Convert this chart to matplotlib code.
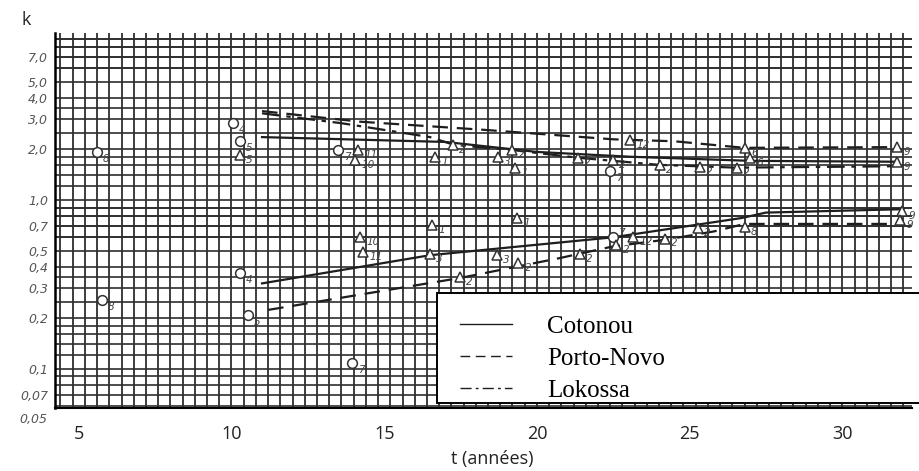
import numpy as np
import matplotlib.pyplot as plt
from matplotlib.patches import Rectangle
from matplotlib.ticker import FixedLocator, NullLocator, FixedFormatter
import matplotlib.transforms as mtransforms

# Courbes du haut (k en fonction de t)
t_cot_hi = [11.0, 17.0, 20.0, 23.0, 27.0, 31.8]
k_cot_hi = [2.35, 2.20, 1.92, 1.80, 1.70, 1.68]
t_pn_hi = [11.0, 14.2, 18.2, 22.5, 24.5, 26.8, 31.8]
k_pn_hi = [3.35, 2.90, 2.60, 2.28, 2.22, 2.03, 2.05]
t_lok_hi = [11.0, 13.6, 16.5, 17.3, 19.2, 21.4, 24.0, 26.5, 31.8]
k_lok_hi = [3.25, 2.84, 2.35, 2.11, 1.97, 1.77, 1.61, 1.55, 1.58]

# Courbes du bas
t_cot_lo = [11.0, 16.5, 22.5, 26.7, 27.5, 32.0]
k_cot_lo = [0.32, 0.47, 0.60, 0.78, 0.84, 0.88]
t_pn_lo = [11.2, 17.5, 20.7, 22.5, 24.2, 25.8, 26.8, 32.0]
k_pn_lo = [0.223, 0.345, 0.45, 0.53, 0.58, 0.65, 0.72, 0.72]

# Points mesures : cercles et triangles, avec leur numero
circ_t = [5.6, 10.05, 10.28, 13.5, 22.4, 10.28, 10.54, 5.76, 13.96, 22.49]
circ_k = [1.92, 2.84, 2.23, 1.97, 1.48, 0.37, 0.208, 0.255, 0.108, 0.60]
circ_lbl = ['8', '4', '5', '7', '7', '4', '5', '8', '7', '7']

tri_t = [10.28, 14.14, 14.04, 16.66, 17.25, 19.19, 18.73, 19.28, 23.05, 21.35,
         22.49, 24.03, 25.34, 26.55, 26.81, 26.98, 31.79, 31.79,
         14.2, 14.3, 16.57, 16.5, 17.48, 19.35, 18.7, 19.39, 21.41, 22.6,
         23.15, 24.2, 25.28, 26.8, 31.95, 31.89]
tri_k = [1.84, 1.97, 1.72, 1.79, 2.11, 1.97, 1.79, 1.54, 2.26, 1.77,
         1.72, 1.61, 1.56, 1.54, 2.03, 1.77, 2.05, 1.67,
         0.60, 0.49, 0.71, 0.48, 0.35, 0.78, 0.47, 0.42, 0.48, 0.54,
         0.60, 0.59, 0.68, 0.69, 0.86, 0.76]
tri_lbl = ['5', '11', '10', '1', '2', '2', '3', '1', '12', '2',
           '2', '2', '2', '2', '6', '6', '9', '9',
           '10', '11', '1', '3', '2', '1', '3', '2', '2', '2',
           '12', '2', '2', '8', '9', '9']

x_ticks = [5, 10, 15, 20, 25, 30]
y_ticks = [0.07, 0.1, 0.2, 0.3, 0.4, 0.5, 0.7, 1.0, 2.0, 3.0, 4.0, 5.0, 7.0]
y_ticklabels = ['0,07', '0,1', '0,2', '0,3', '0,4', '0,5', '0,7',
                '1,0', '2,0', '3,0', '4,0', '5,0', '7,0']

fig = plt.figure(figsize=(9.19, 4.71), dpi=100)
ax = fig.add_axes([0.0598, 0.1338, 0.9325, 0.796])
ax.set_yscale('log')
ax.set_xlim(4.22, 32.28)
ax.set_ylim(0.0586, 9.7)

# papier log : traits verticaux reguliers, horizontaux par decade
grid_c = '#2e2e2e'
for xv in np.arange(4.4, 32.3, 0.4):
    ax.axvline(xv, color=grid_c, lw=1.3, zorder=1)
for dec in [0.01, 0.1, 1.0]:
    for m in [6, 7, 8, 9, 10, 12, 14, 16, 18, 20, 25, 30, 35, 40, 50, 60, 70, 80, 90]:
        yv = dec * m
        if 0.0586 < yv < 9.7:
            ax.axhline(yv, color=grid_c, lw=1.2, zorder=1)

line_kw = dict(color='#1e1e1e', lw=1.6, zorder=3)
l_cot, = ax.plot(t_cot_hi, k_cot_hi, ls='-', label='Cotonou', **line_kw)
l_pn, = ax.plot(t_pn_hi, k_pn_hi, ls=(0, (7, 4)), label='Porto-Novo', **line_kw)
l_lok, = ax.plot(t_lok_hi, k_lok_hi, ls=(0, (8, 3, 2, 3)), label='Lokossa', **line_kw)
ax.plot(t_cot_lo, k_cot_lo, ls='-', **line_kw)
ax.plot(t_pn_lo, k_pn_lo, ls=(0, (7, 4)), **line_kw)

mk_kw = dict(ls='none', mfc='white', mec='#333333', mew=1.1, ms=7, zorder=4)
ax.plot(circ_t, circ_k, marker='o', **mk_kw)
ax.plot(tri_t, tri_k, marker='^', **mk_kw)

lbl_kw = dict(textcoords='offset points', fontsize=7.5, style='italic',
              color='#444444', ha='left', va='center', zorder=5)
# le 7 du cercle bas droite passe au-dessus pour ne pas toucher le 2
circ_off = {9: (4, 3)}
for i, (t, k, s) in enumerate(zip(circ_t, circ_k, circ_lbl)):
    ax.annotate(s, (t, k), xytext=circ_off.get(i, (4, -5)), **lbl_kw)
for t, k, s in zip(tri_t, tri_k, tri_lbl):
    ax.annotate(s, (t, k), xytext=(4.5, -3.5), **lbl_kw)

# axes
for side in ['top', 'right']:
    ax.spines[side].set_visible(False)
ax.spines['left'].set_linewidth(1.8)
ax.spines['bottom'].set_linewidth(1.5)
ax.yaxis.set_major_locator(FixedLocator(y_ticks))
ax.yaxis.set_major_formatter(FixedFormatter(y_ticklabels))
ax.yaxis.set_minor_locator(NullLocator())
ax.set_xticks(x_ticks)
ax.tick_params(axis='y', length=0, pad=5, labelsize=9, labelcolor='#555555')
for lab in ax.get_yticklabels():
    lab.set_style('italic')
ax.tick_params(axis='x', length=0, pad=12, labelsize=13, labelcolor='#222222')
for lab in ax.get_xticklabels():
    lab.set_family('Open Sans')

trans = mtransforms.blended_transform_factory(ax.transAxes, ax.transData)
ax.text(-0.009, 0.05, '0,05', transform=trans, ha='right', va='center',
        fontsize=9, style='italic', color='#555555', clip_on=False)

ax.set_xlabel('t (années)', fontsize=13, family='Open Sans', color='#222222')
ax.xaxis.set_label_coords(0.51, -0.112)
fig.text(0.029, 0.958, 'k', fontsize=13, family='Open Sans', color='#222222',
         ha='center', va='center')

# cadre de la legende, qui deborde a droite
box = Rectangle((0.446, 0.013), 0.6, 0.294, transform=ax.transAxes,
                facecolor='white', edgecolor='black', lw=1.4,
                zorder=9, clip_on=False)
ax.add_patch(box)
leg = ax.legend(handles=[l_cot, l_pn, l_lok], loc='upper left',
                bbox_to_anchor=(0.4726, 0.248),
                prop={'family': 'Liberation Serif', 'size': 18},
                frameon=False, handlelength=2.1, handletextpad=1.4,
                labelspacing=0.38, borderpad=0, borderaxespad=0)
leg.set_zorder(10)
for h in leg.get_lines():
    h.set_linewidth(1.0)

fig.savefig('out.png', dpi=100)
